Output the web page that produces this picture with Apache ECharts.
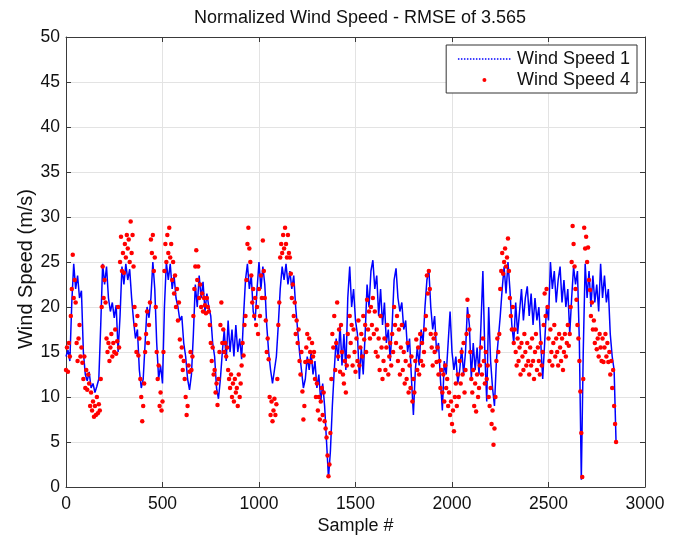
<!DOCTYPE html>
<html>
<head>
<meta charset="utf-8">
<script src="https://cdn.jsdelivr.net/npm/echarts@6/dist/echarts.min.js"></script>
<style>
html,body{margin:0;padding:0;background:#fff;}
#chart{width:677px;height:540px;}
</style>
</head>
<body>
<div id="chart"></div>
<script>
// ---- data ----
const titleText = "Normalized Wind Speed - RMSE of 3.565";
const seriesNames = ["Wind Speed 1", "Wind Speed 4"];
const xTicks = [0, 500, 1000, 1500, 2000, 2500, 3000];
const yTicks = [0, 5, 10, 15, 20, 25, 30, 35, 40, 45, 50];

// Wind Speed 1: one value every 10 samples, starting at sample 0
const speed1Step = 10;
const speed1 = [
14.5,15.2,14.0,20.5,24.8,22.0,23.5,21.0,21.8,15.0,
12.5,11.8,12.8,11.0,11.5,10.5,11.2,12.0,18.0,24.8,
22.5,24.5,21.0,19.5,20.5,18.8,20.2,15.0,19.0,24.5,
22.5,24.8,23.0,24.2,21.0,18.5,16.5,17.5,13.0,11.0,
12.0,16.0,20.0,18.8,21.0,25.0,22.0,16.0,12.0,13.5,
11.5,20.0,25.0,23.0,24.8,22.0,23.5,21.0,20.0,18.5,
19.0,16.0,14.5,12.0,10.8,12.5,17.0,22.5,20.0,23.5,
21.0,22.8,19.5,21.5,20.0,19.0,16.0,14.5,11.0,9.8,
12.0,15.0,17.5,14.0,18.5,15.0,17.5,14.5,18.0,15.0,
16.5,14.2,19.0,23.0,24.8,22.0,23.5,19.5,18.5,22.0,
25.0,22.0,24.5,22.5,18.0,15.0,13.0,11.5,13.0,14.5,
18.0,22.0,24.5,23.0,24.8,22.5,24.0,22.0,23.5,20.0,
17.5,15.0,13.0,11.0,12.0,14.5,13.0,15.0,12.5,14.0,
11.0,12.5,9.5,11.5,9.0,5.0,1.0,4.0,9.0,13.0,
16.5,14.0,18.0,13.5,17.0,13.0,21.0,24.5,20.0,22.0,
18.5,17.0,12.0,15.5,12.5,17.0,22.5,20.0,24.0,25.2,
22.0,23.5,19.0,22.0,18.0,20.5,16.0,17.5,14.0,18.0,
23.0,24.3,21.0,19.5,20.5,17.5,18.5,15.0,16.5,12.0,
8.0,13.0,15.5,13.5,17.5,16.0,20.0,23.0,24.2,20.0,
17.5,19.0,15.0,16.0,12.0,8.5,14.0,12.5,16.0,19.5,
15.0,13.0,14.5,11.5,13.0,15.5,12.5,15.0,20.0,18.0,
12.0,16.0,13.0,15.5,12.5,18.0,24.0,15.0,9.5,20.0,
14.0,11.0,9.0,14.0,16.5,19.0,22.0,24.5,21.5,25.0,
22.0,18.0,16.0,20.5,17.0,19.5,22.0,18.5,21.0,22.3,
19.0,21.5,18.0,21.0,18.5,20.0,16.0,12.0,16.0,20.0,
18.5,25.0,22.0,24.0,20.5,23.0,24.5,20.5,23.0,20.0,
22.0,17.0,21.0,24.5,22.5,24.0,16.0,0.8,15.0,24.8,
21.0,24.0,20.0,23.5,20.5,22.5,19.5,24.8,21.0,23.5,
20.5,22.0,17.0,14.5,13.0,5.0
];

// Wind Speed 4: one value every 5 samples, starting at sample 0
const speed4Step = 5;
const speed4 = [
13,15.5,12.8,16,14.5,19,22,25.8,21,23,
20.5,16,14,16.5,18,14.5,15.5,13.8,12,14.5,
11,13,10.8,12.5,11.5,9,10.5,8.5,9.5,7.8,
9,8,10,8.2,9.2,8.5,12,20,24.5,21,
23,20.5,16.5,15,16,14,15.5,17,14.5,16,
15,17.5,14.8,16.2,20,15.5,25,27.8,24,26,
23.8,27,25.5,28,26.5,27.5,25,29.5,26,28,
24.5,20,18,15,19,14.6,16.5,12,10,7.3,
9,11.5,15,17,19.5,16,18,20.5,27.5,26,
28,24,25.5,20,15,12,13.5,9,10.5,8.5,
9.5,15,24,27,25,28,26,28.8,25.5,27,
23,25,21.5,23.5,20,22,18.5,20.5,16.4,14.5,
15.5,13,14,12,10,8,9,13.5,12.8,15,
13,14.5,19,22,24.5,26.3,23,24.5,21,22.5,
20,21.5,19.5,21,20.2,19.3,21,20,19.5,18,
16,14,15.5,12.5,13,10.5,11.5,9.1,12,15,
18,20.5,16,17.5,15,16,14.5,15.5,13,12,
11,12.5,10,11.5,9.5,12,10.5,11,9,12.5,
10,11.5,13.5,16,14.6,18,19,23,27,28.8,
26.5,25,23.5,20.5,22,19,21,18,20,17,
22,19,23.5,21,27.4,24,21,18.5,15,16.5,
14.2,10,8,9.5,7.3,8.5,9.8,8,9.2,12,
18,20.5,25.5,27,26,28,26.5,28.8,27,25.5,
28,26,25.5,23.7,21,22.5,19,20.5,17,18.5,
16,17.5,14,12.5,15,10.6,7.5,9,13.9,15.5,
17,14,16.5,15,13.9,16,14.5,15,12,10,
11.5,8.5,10,7.5,9.5,11,8,10.5,7.3,6.5,
5.5,3.5,1.2,2.5,6,12,17,15.5,19,13,
16,20.5,14.5,17.5,12.8,18,15,12.5,11.5,14,
10.5,13.5,17,14.5,19,16,18,13.5,17.5,15,
12.8,16.5,14,18.5,13.5,15.5,17,14.5,19,16.4,
18,15,20.8,17.5,19.5,16.5,20,18,21,17,
19.5,15,17.5,14.5,16.5,13,19,15.5,12,14,
16.5,13,15.5,18,12.5,14.5,16,13.5,17,15,
20,18,16,19,14,17.5,12.5,15.5,18,13,
15,11.5,14,12,16,10.5,13.5,11,14.5,9.5,
12,10.5,14,16.4,13,15.5,12.5,17,14,16,
13.5,15,17.5,19,23.5,21.5,24,22,17,15.5,
13.5,16.5,15,17,13.9,15.5,12.5,14,11,13,
10.5,12.5,9.5,13.5,11,12,9,10.5,8,9.5,
7,8.5,6.2,10,11.5,9,12.5,10,14,11.5,
15,12.5,16,10.5,13,17,20.8,19,17.5,15,
12,10.5,13,9,11.5,8.4,12.5,10,11,13.5,
15.5,12.5,16.5,14,11.5,15,12,13.5,10,9,
11,7,8.5,4.7,6.5,10,14,16.5,15,17,
22,24,26,23.7,25,26.5,24.5,25.5,27.6,24,
21,19,17.5,20,16,17.5,15,13.5,16.5,14,
15.5,12.5,16,14.5,13,17,15,13.5,16,14,
12.5,15.5,13.5,16.5,14,12,15,17,13,15.5,
14,12.5,16,13.5,15,18,21.5,19,22,20,
16.5,14,17.5,15,13.5,16,18,14.5,16.5,15,
13.5,17,15.5,14,16.5,13,15,17,14.5,16,
18,15.7,17,20,25,29,27,24.5,22,20.8,
18,16.5,14,10.6,6,1.1,12,28.8,26.5,27.8,
25,26.6,23,21.9,19,20.5,17.5,18.5,16,17.5,
15.3,16.5,14.5,17,15.5,14,16.5,13.9,15.5,17,
14.5,16,13.9,15,12.5,14,11,13,9,7,
5
];

// ---- build chart ----
const s1 = speed1.map((v, i) => [i * speed1Step, v]);
const s4 = speed4.map((v, i) => [i * speed4Step, v]);

const FONT = "'Liberation Sans', Arial, Helvetica, sans-serif";
const axisColor = '#3a3a3a';
const gridColor = '#e3e3e3';
const textColor = '#111';

const chart = echarts.init(document.getElementById('chart'), null, {renderer: 'canvas'});

const baseX = {
  type: 'value', min: xTicks[0], max: xTicks[xTicks.length - 1],
  interval: xTicks[1] - xTicks[0]
};
const baseY = {
  type: 'value', min: yTicks[0], max: yTicks[yTicks.length - 1],
  interval: yTicks[1] - yTicks[0]
};

chart.setOption({
  animation: false,
  backgroundColor: '#ffffff',
  textStyle: {fontFamily: FONT},
  title: {
    text: titleText, left: 355, top: 4, textAlign: 'center',
    textStyle: {fontFamily: FONT, fontSize: 18, fontWeight: 'normal', color: textColor}
  },
  grid: {left: 66, right: 32, top: 37, bottom: 47, containLabel: false},
  legend: {
    orient: 'vertical', right: 40, top: 45,
    data: [
      {name: seriesNames[0],
       lineStyle: {color: '#0000ff', width: 1.5, type: 'dotted'},
       itemStyle: {color: 'rgba(0,0,0,0)', borderWidth: 0, opacity: 0}},
      {name: seriesNames[1], icon: 'circle', itemStyle: {color: '#ff0000'}}
    ],
    itemWidth: 53, itemHeight: 4, itemGap: 3,
    padding: [5, 7, 4, 11],
    backgroundColor: '#fff', borderColor: '#333', borderWidth: 1,
    textStyle: {fontFamily: FONT, fontSize: 18, color: textColor, padding: [0, 0, 0, 1]}
  },
  xAxis: [
    Object.assign({}, baseX, {
      position: 'bottom',
      name: 'Sample #', nameLocation: 'middle', nameGap: 30, nameMoveOverlap: false,
      nameTextStyle: {fontFamily: FONT, fontSize: 18, color: textColor},
      axisLine: {show: true, lineStyle: {color: axisColor, width: 1}},
      axisTick: {show: true, inside: true, length: 5, lineStyle: {color: axisColor}},
      axisLabel: {fontFamily: FONT, fontSize: 17.5, color: textColor, margin: 8,
                  formatter: v => String(v)},
      splitLine: {show: true, lineStyle: {color: gridColor, width: 1}}
    }),
    Object.assign({}, baseX, {
      position: 'top',
      axisLine: {show: true, onZero: false, lineStyle: {color: axisColor, width: 1}},
      axisTick: {show: true, inside: true, length: 5, lineStyle: {color: axisColor}},
      axisLabel: {show: false},
      splitLine: {show: false}
    })
  ],
  yAxis: [
    Object.assign({}, baseY, {
      position: 'left',
      name: 'Wind Speed (m/s)', nameLocation: 'middle', nameGap: 30, nameMoveOverlap: false,
      nameTextStyle: {fontFamily: FONT, fontSize: 20, color: textColor, padding: [0, 14, 0, 0]},
      axisLine: {show: true, onZero: false, lineStyle: {color: axisColor, width: 1}},
      axisTick: {show: true, inside: true, length: 5, lineStyle: {color: axisColor}},
      axisLabel: {fontFamily: FONT, fontSize: 17.5, color: textColor, margin: 6},
      splitLine: {show: true, lineStyle: {color: gridColor, width: 1}}
    }),
    Object.assign({}, baseY, {
      position: 'right',
      axisLine: {show: true, onZero: false, lineStyle: {color: axisColor, width: 1}},
      axisTick: {show: true, inside: true, length: 5, lineStyle: {color: axisColor}},
      axisLabel: {show: false},
      splitLine: {show: false}
    })
  ],
  series: [
    {
      name: seriesNames[0], type: 'line', data: s1,
      xAxisIndex: 0, yAxisIndex: 0,
      showSymbol: false, symbol: 'none',
      lineStyle: {color: '#0000ff', width: 1.5, type: 'solid'},
      itemStyle: {color: '#0000ff'},
      z: 2
    },
    {
      name: seriesNames[1], type: 'scatter', data: s4,
      xAxisIndex: 0, yAxisIndex: 0,
      symbol: 'circle', symbolSize: 4.5,
      itemStyle: {color: '#ff0000', opacity: 1},
      z: 3
    }
  ]
});
</script>
</body>
</html>
